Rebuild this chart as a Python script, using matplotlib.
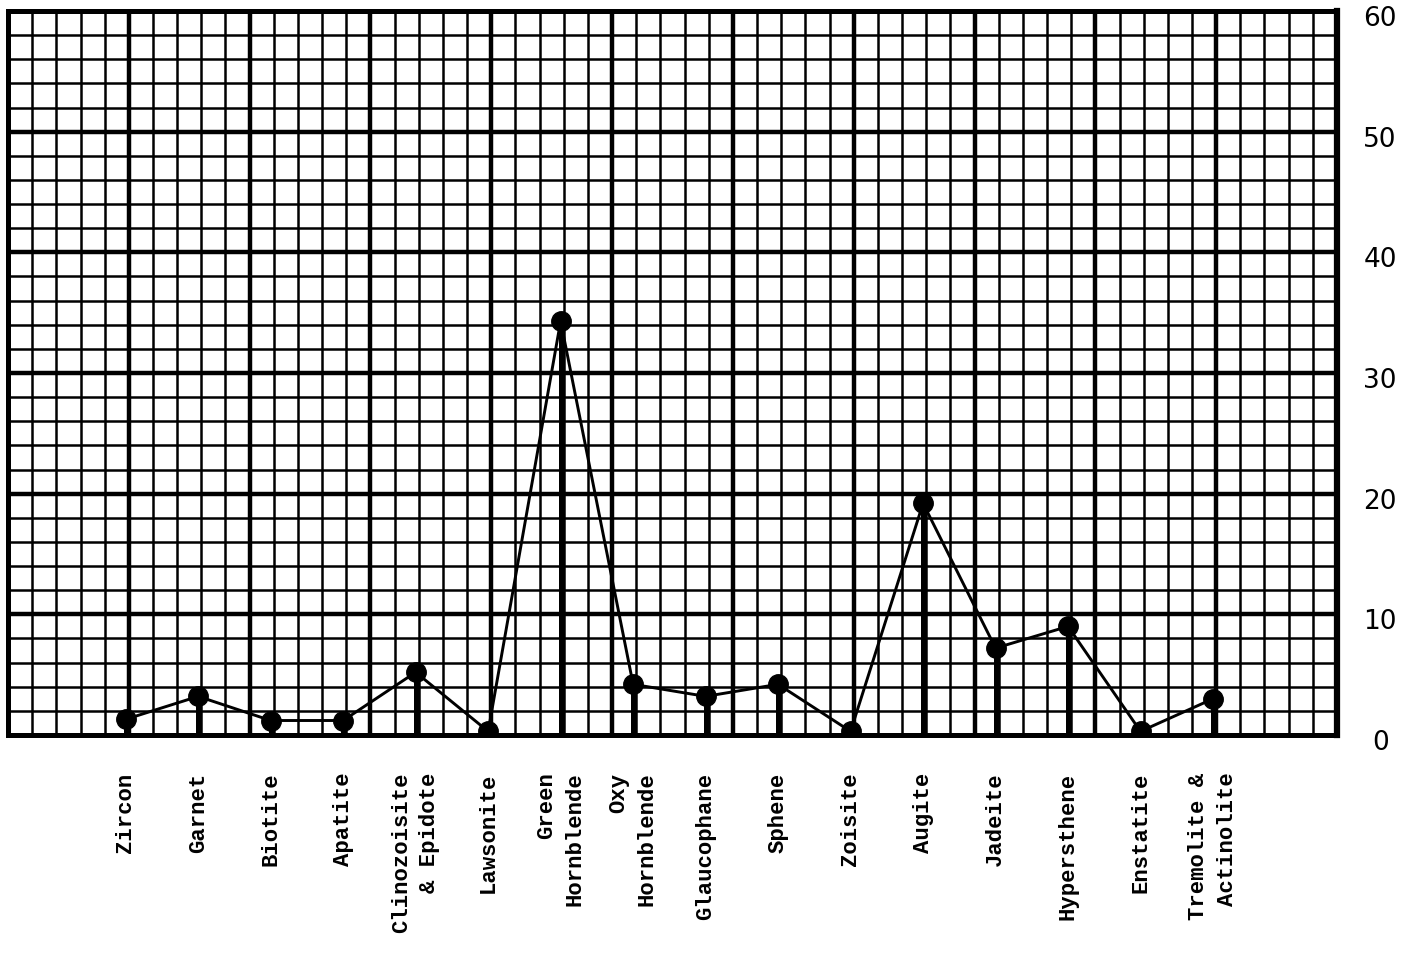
import numpy as np
import matplotlib
matplotlib.use("Agg")
import matplotlib.pyplot as plt
import matplotlib.transforms as mtransforms


minerals = ["Zircon", "Garnet", "Biotite", "Apatite", "Clinozoisite\n& Epidote",
            "Lawsonite", "Green\nHornblende", "Oxy\nHornblende", "Glaucophane",
            "Sphene", "Zoisite", "Augite", "Jadeite", "Hypersthene", "Enstatite",
            "Tremolite &\nActinolite"]
percent = [1.3, 3.2, 1.2, 1.2, 5.2, 0.3, 34.3, 4.2, 3.2, 4.2, 0.3, 19.2, 7.2, 9.0, 0.3, 3.0]
y_ticks = [0, 10, 20, 30, 40, 50, 60]

# graph paper: 55 columns x 30 rows, each category 3 columns apart
n_cols = 55
x_pos = 4.87 + 3 * np.arange(len(minerals))

fig = plt.figure(figsize=(14.1, 9.69), dpi=100)
ax = fig.add_axes([0.0057, 0.2415, 0.9425, 0.7471])

ax.set_xlim(0, n_cols)
ax.set_ylim(0, 60)

# grid lines
for i in range(1, n_cols):
    ax.axvline(i, color='black', lw=3.2 if i % 5 == 0 else 1.8, zorder=1)
for j in range(2, 60, 2):
    ax.axhline(j, color='black', lw=3.2 if j % 10 == 0 else 1.8, zorder=1)

ax.vlines(x_pos, 0, percent, color='black', lw=3.6, zorder=3)
ax.plot(x_pos, percent, color='black', lw=2.1, marker='o', markersize=14, zorder=4)

for s in ax.spines.values():
    s.set_linewidth(3.6)
    s.set_color('black')
ax.spines['right'].set_linewidth(4.5)

ax.set_xticks(x_pos)
ax.set_xticklabels(minerals, rotation=90, va='top', ha='center', multialignment='right',
                   fontsize=16, family='Liberation Mono', fontweight='bold', linespacing=1.45)
ax.tick_params(axis='x', length=0, pad=27)

# right-hand scale, drawn a little below each grid line
ax.set_yticks([])
lab_tr = mtransforms.offset_copy(ax.get_yaxis_transform(), fig=fig, x=0, y=-8, units='dots')
for v in y_ticks:
    ax.text(1.0325, v, str(v), transform=lab_tr, ha='center', va='center',
            fontsize=19, family='DejaVu Sans', clip_on=False)

fig.savefig("out.png", dpi=100)
